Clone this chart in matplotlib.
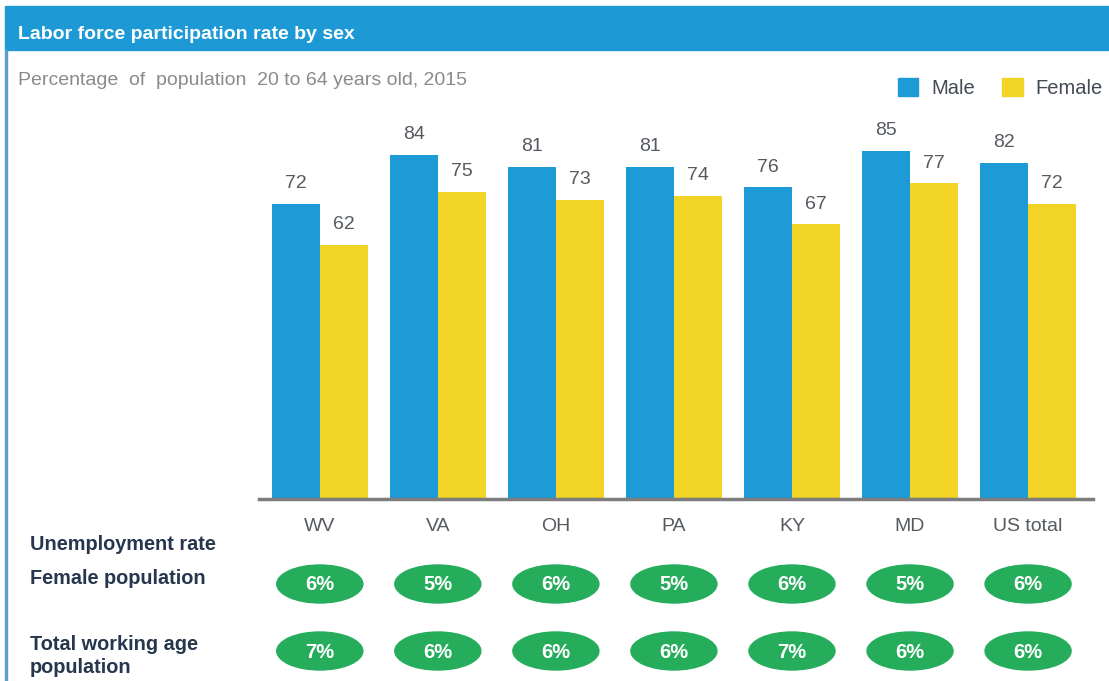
import matplotlib
matplotlib.use('Agg')
import matplotlib.pyplot as plt
from matplotlib.patches import Rectangle, Ellipse, Patch
import numpy as np

plt.rcParams['font.family'] = ['Liberation Sans', 'DejaVu Sans']

states = ['WV', 'VA', 'OH', 'PA', 'KY', 'MD', 'US total']
male = [72, 84, 81, 81, 76, 85, 82]
female = [62, 75, 73, 74, 67, 77, 72]
unemp_female = [6, 5, 6, 5, 6, 5, 6]
unemp_total = [7, 6, 6, 6, 7, 6, 6]

BLUE = '#1c9bd7'
YELLOW = '#f1d426'
GREEN = '#25ad5c'
HEADER = '#1d9ad6'
NAVY = '#26364d'
GRAY = '#555a60'

W, H = 1109, 681
fig = plt.figure(figsize=(W / 100, H / 100), dpi=100)
fig.patch.set_facecolor('white')

def fx(px):
    return px / W

def fy(py):
    return 1 - py / H

# header bar and left border
fig.patches.append(Rectangle((fx(5), fy(50)), 1 - fx(5), fy(6) - fy(50),
                             transform=fig.transFigure, color=HEADER, zorder=0))
fig.patches.append(Rectangle((fx(5), 0), fx(2), fy(50),
                             transform=fig.transFigure, color='#5a9fcc', zorder=0))
fig.text(fx(18), fy(39), 'Labor force participation rate by sex', color='white',
         fontsize=14, fontweight='bold', va='baseline', ha='left')
fig.text(fx(18), fy(85), 'Percentage  of  population  20 to 64 years old, 2015',
         color='#8a8a8a', fontsize=14, va='baseline', ha='left')

# bar chart
ax_left, ax_right = 259, 1093
ax_top, ax_bottom = 100, 499
ax = fig.add_axes([fx(ax_left), fy(ax_bottom), fx(ax_right - ax_left), fy(ax_top) - fy(ax_bottom)])
x = np.arange(len(states))
bw = 0.407
ax.bar(x - bw / 2, male, bw, color=BLUE, label='Male')
ax.bar(x + bw / 2, female, bw, color=YELLOW, label='Female')
ax.set_xlim(-0.515, 6.55)
ax.set_ylim(0, (ax_bottom - ax_top) / 4.1)

for xi, m, f in zip(x, male, female):
    ax.text(xi - bw / 2, m + 2.8, str(m), ha='center', va='bottom', fontsize=14, color=GRAY)
    ax.text(xi + bw / 2, f + 2.8, str(f), ha='center', va='bottom', fontsize=14, color=GRAY)

for s in ['top', 'right', 'left']:
    ax.spines[s].set_visible(False)
ax.spines['bottom'].set_color('#7d7d7d')
ax.spines['bottom'].set_linewidth(2.5)
ax.set_yticks([])
ax.set_xticks(x)
ax.set_xticklabels(states, fontsize=14, color=GRAY)
ax.tick_params(axis='x', length=0, pad=14)

leg = fig.legend(handles=[Patch(color=BLUE, label='Male'), Patch(color=YELLOW, label='Female')],
                 loc='upper right', bbox_to_anchor=(fx(1121), fy(60)), ncol=2, frameon=False,
                 fontsize=14.5, handlelength=1.0, handleheight=1.0, handletextpad=0.65,
                 columnspacing=1.35)
for t in leg.get_texts():
    t.set_color('#444a55')

# unemployment rate rows
fig.text(fx(30), fy(550), 'Unemployment rate', fontsize=14.3, fontweight='bold', color=NAVY)
fig.text(fx(30), fy(584), 'Female population', fontsize=14.3, fontweight='bold', color=NAVY)
fig.text(fx(30), fy(650), 'Total working age', fontsize=14.3, fontweight='bold', color=NAVY)
fig.text(fx(30), fy(673), 'population', fontsize=14.3, fontweight='bold', color=NAVY)

ax2 = fig.add_axes([fx(ax_left), 0, fx(ax_right - ax_left), fy(540)])
ax2.set_xlim(ax.get_xlim())
ax2.set_ylim(H, 540)
ax2.axis('off')
for row_y, vals in [(584, unemp_female), (651, unemp_total)]:
    for xi, v in zip(x, vals):
        ax2.add_patch(Ellipse((xi, row_y), 86 / 118, 38, color=GREEN))
        ax2.text(xi, row_y + 1, f'{v}%', ha='center', va='center', fontsize=14.5,
                 fontweight='bold', color='white')

fig.savefig('out.png', dpi=100)
